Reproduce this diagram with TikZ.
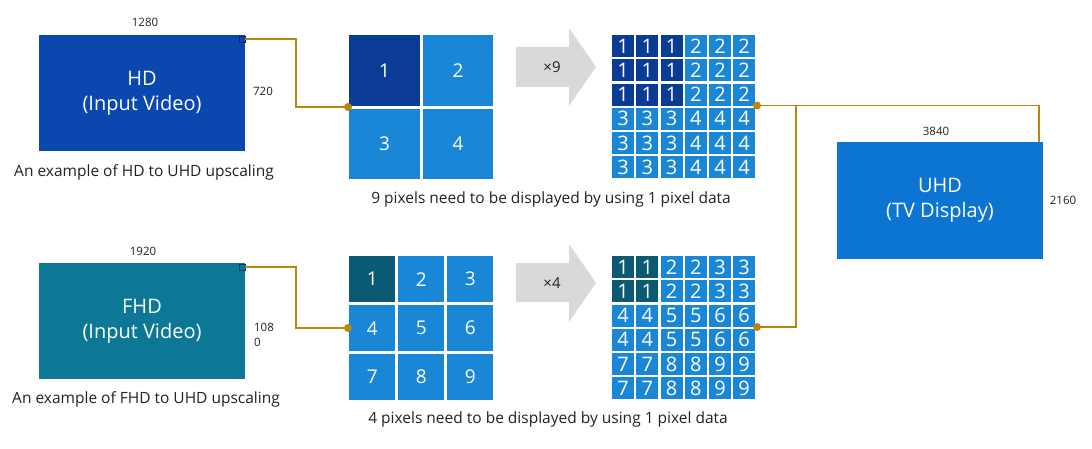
\documentclass[tikz,border=0pt]{standalone}
\usepackage{fontspec}
\setmainfont{Open Sans}
\usetikzlibrary{positioning,calc}

\definecolor{hdblue}{HTML}{0A48B0}
\definecolor{uhdblue}{HTML}{0C75D2}
\definecolor{fhdteal}{HTML}{0C7896}
\definecolor{pixblue}{HTML}{1A86D6}
\definecolor{pixdark}{HTML}{0A3C96}
\definecolor{pixteal}{HTML}{0A5A73}
\definecolor{linkgold}{HTML}{B8860B}
\definecolor{arrowgray}{HTML}{D9D9D9}
\definecolor{txtgray}{HTML}{222222}

\begin{document}
\begin{tikzpicture}[x=1pt, y=-1pt,
    screen/.style={minimum width=206pt, minimum height=116pt, inner sep=0pt,
      fill=#1, text=white, align=center, font=\fontsize{20}{25}\selectfont},
    pix/.style={fill=#1, text=white, inner sep=0pt, anchor=north west},
    link/.style={draw=linkgold, line width=1.6pt},
    jdot/.style={circle, fill=linkgold, inner sep=0pt, minimum size=8pt},
    dimtext/.style={font=\fontsize{11.5}{15}\selectfont, text=txtgray},
    caption/.style={font=\fontsize{15.5}{18}\selectfont, text=txtgray}]

    \useasboundingbox (0,0) rectangle (1092,449);

    % --- 1. 基準座標 ---
    % gA: 2x2, gB: 3x3, gC/gD: 6x6 のグリッド原点
    \def\xIn{349}
    \def\xOut{612}
    \def\yTop{35}
    \def\yLow{256}
    \def\xBend{296}
    \def\xJoin{796}

    % --- 2. 入力・出力画面 ---
    \node[screen=hdblue]  (hd)  at (142,93)    {HD\\(Input Video)};
    \node[screen=fhdteal] (fhd) at (142,321)   {FHD\\(Input Video)};
    \node[screen=uhdblue] (uhd) at (940,200.5) {UHD\\(TV Display)};

    \draw[hdblue!50!black, line width=0.4pt] ($(hd.north east)+(-6,1)$) rectangle ++(6,6);
    \draw[fhdteal!50!black, line width=0.4pt] ($(fhd.north east)+(-6,1)$) rectangle ++(6,6);

    % 解像度ラベル
    \node[dimtext] (hdW)  at (145,22)  {1280};
    \node[dimtext] (hdH)  at (263,91)  {720};
    \node[dimtext] (fhdW) at (143,251) {1920};
    \node[dimtext, align=left] (fhdH) at (264,335) {108\\0};
    \node[dimtext] (uhdW) at (936,131) {3840};
    \node[dimtext] (uhdH) at (1063,200) {2160};

    \node[caption] (hdCap)  at (144,172) {An example of HD to UHD upscaling};
    \node[caption] (fhdCap) at (146,399) {An example of FHD to UHD upscaling};

    % --- 3. 入力ピクセル (2x2, 3x3) ---
    \foreach \r in {1,2} {
      \foreach \c in {1,2} {
        \pgfmathtruncatemacro{\n}{(\r-1)*2+\c}
        \ifnum\n=1 \def\pc{pixdark}\else\def\pc{pixblue}\fi
        \node[pix=\pc, minimum size=70.5pt, font=\fontsize{19}{19}\selectfont]
          (a-\r-\c) at ({\xIn+(\c-1)*73.5}, {\yTop+(\r-1)*73.5}) {\n};
      }
    }
    \foreach \r in {1,2,3} {
      \foreach \c in {1,2,3} {
        \pgfmathtruncatemacro{\n}{(\r-1)*3+\c}
        \ifnum\n=1 \def\pc{pixteal}\else\def\pc{pixblue}\fi
        \node[pix=\pc, minimum size=46pt, font=\fontsize{19}{19}\selectfont]
          (b-\r-\c) at ({\xIn+(\c-1)*49}, {\yLow+(\r-1)*49}) {\n};
      }
    }

    % --- 4. 出力ピクセル (6x6) ---
    \foreach \r in {1,...,6} {
      \foreach \c in {1,...,6} {
        % HD: 1画素 -> 3x3
        \pgfmathtruncatemacro{\n}{(\r>3)*2+(\c>3)+1}
        \ifnum\n=1 \def\pc{pixdark}\else\def\pc{pixblue}\fi
        \node[pix=\pc, minimum size=22pt, font=\fontsize{20}{20}\selectfont]
          (c-\r-\c) at ({\xOut+(\c-1)*24.2}, {\yTop+(\r-1)*24.2}) {\n};
        % FHD: 1画素 -> 2x2
        \pgfmathtruncatemacro{\m}{3*int((\r-1)/2)+int((\c-1)/2)+1}
        \ifnum\m=1 \def\pc{pixteal}\else\def\pc{pixblue}\fi
        \node[pix=\pc, minimum size=22pt, font=\fontsize{20}{20}\selectfont]
          (d-\r-\c) at ({\xOut+(\c-1)*24.2}, {\yLow+(\r-1)*24.2}) {\m};
      }
    }

    \node[caption] (hdNote)  at (551,199) {9 pixels need to be displayed by using 1 pixel data};
    \node[caption] (fhdNote) at (548,419) {4 pixels need to be displayed by using 1 pixel data};

    % --- 5. 拡大矢印 ---
    \fill[arrowgray] (516,47) -- (569,47) -- (569,28) -- (596,67)
      -- (569,106) -- (569,87) -- (516,87) -- cycle;
    \node[dimtext, font=\fontsize{15}{15}\selectfont] (times9) at (552,67) {×9};
    \fill[arrowgray] (516,263) -- (569,263) -- (569,244) -- (596,283)
      -- (569,322) -- (569,302) -- (516,302) -- cycle;
    \node[dimtext, font=\fontsize{15}{15}\selectfont] (times4) at (552,283) {×4};

    % --- 6. 接続線 ---
    \coordinate (hdOut)  at ($(hd.north east)+(0,4)$);
    \coordinate (fhdOut) at ($(fhd.north east)+(0,4)$);
    \coordinate (uhdIn)  at ($(uhd.north east)+(-4,0)$);
    \coordinate (join)   at (\xJoin,105.5);

    \node[jdot] (hdIn)   at (348,107)   {};
    \node[jdot] (fhdIn)  at (348,328)   {};
    \node[jdot] (hdUp)   at (757,105.5) {};
    \node[jdot] (fhdUp)  at (757,327)   {};

    \draw[link] (hdOut) -| (\xBend,107) -- (hdIn.center);
    \draw[link] (fhdOut) -| (\xBend,328) -- (fhdIn.center);
    \draw[link] (hdUp.center) -| (uhdIn);
    \draw[link] (fhdUp.center) -| (join);

  \end{tikzpicture}
\end{document}
